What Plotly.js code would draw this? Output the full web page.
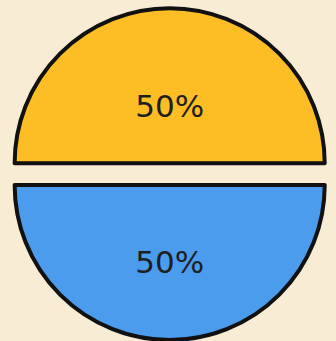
<!DOCTYPE html>
<html>
<head>
<meta charset="utf-8">
<script src="https://cdn.plot.ly/plotly-3.0.1.min.js"></script>
<style>
  html, body { margin: 0; padding: 0; background: #f8ecd5; }
  #chart { width: 336px; height: 341px; }
</style>
</head>
<body>
<div id="chart"></div>
<script>
const labels = ["A", "B"];
const values = [50, 50];
const colors = ["#fdbd24", "#4b9cec"];

const trace = {
  type: "pie",
  labels: labels,
  values: values,
  sort: false,
  direction: "clockwise",
  rotation: -90,
  pull: [0.07, 0.07],
  marker: { colors: colors, line: { color: "#111111", width: 4 } },
  texttemplate: ["\u00a0<br>%{percent}", "%{percent}"],
  textposition: "inside",
  insidetextorientation: "horizontal",
  textfont: { family: "DejaVu Sans", size: 31, color: "#1e1e1e" },
  hoverinfo: "none",
  domain: { x: [0.01, 1], y: [0.003, 0.976] }
};

const layout = {
  width: 336,
  height: 341,
  margin: { l: 0, r: 0, t: 0, b: 0 },
  paper_bgcolor: "#f8ecd5",
  plot_bgcolor: "#f8ecd5",
  showlegend: false
};

Plotly.newPlot("chart", [trace], layout, { displayModeBar: false, staticPlot: true });
</script>
</body>
</html>
